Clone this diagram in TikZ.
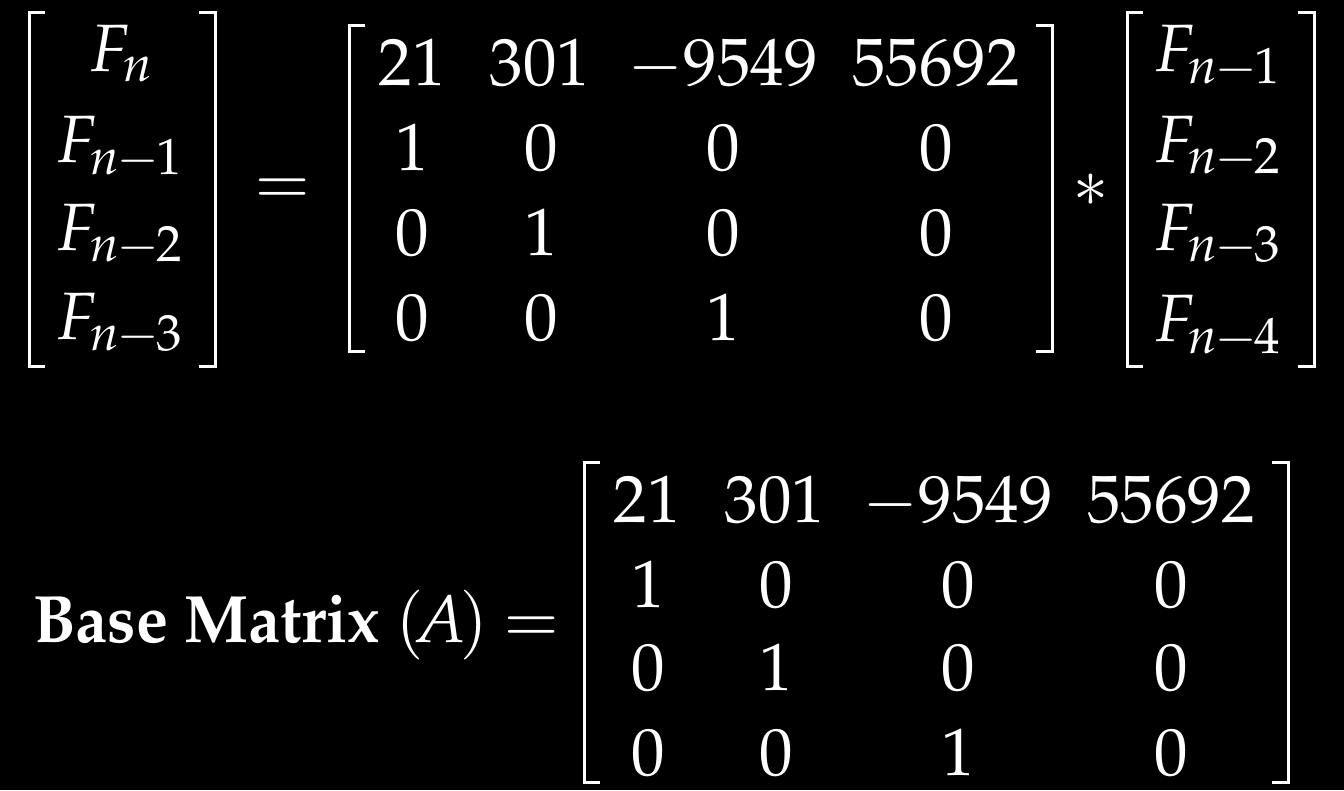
\documentclass[tikz,border=0pt]{standalone}
\usepackage[T1]{fontenc}
\usepackage{mathpazo}
\newcommand{\sbm}{\mkern-1mu-\mkern-1mu}
\begin{document}
\begin{tikzpicture}[x=1pt,y=-1pt,
  every node/.style={text=white, inner sep=0pt, font=\fontsize{67}{80}\selectfont},
  ent/.style={anchor=base},
  brk/.style={draw=white, line width=3pt, line join=miter}]
\fill[black] (0,0) rectangle (1344,790);
\useasboundingbox (0,0) rectangle (1344,790);
% left vector
\node[ent] (l1) at (121,71)  {$F_n$};
\node[ent] (l2) at (119,162) {$F_{n\sbm1}$};
\node[ent] (l3) at (119,250) {$F_{n\sbm2}$};
\node[ent] (l4) at (119,339) {$F_{n\sbm3}$};
\draw[brk] (45,12) -- (29,12) -- (29,366) -- (45,366);
\draw[brk] (199,12) -- (215,12) -- (215,366) -- (199,366);
% equals
\node[ent] (eq1) at (283,204) {$=$};
% big matrix (top)
\node[ent] (a11) at (412,85) {$21$};
\node[ent] (a12) at (540,85) {$301$};
\node[ent] (a13) at (723,85) {$-9549$};
\node[ent] (a14) at (936,85) {$55692$};
\node[ent] (a21) at (412,170) {$1$};
\node[ent] (a22) at (541,170) {$0$};
\node[ent] (a23) at (723,170) {$0$};
\node[ent] (a24) at (936,170) {$0$};
\node[ent] (a31) at (412,255) {$0$};
\node[ent] (a32) at (541,255) {$1$};
\node[ent] (a33) at (723,255) {$0$};
\node[ent] (a34) at (936,255) {$0$};
\node[ent] (a41) at (412,340) {$0$};
\node[ent] (a42) at (541,340) {$0$};
\node[ent] (a43) at (723,340) {$1$};
\node[ent] (a44) at (936,340) {$0$};
\draw[brk] (365,25) -- (349,25) -- (349,351) -- (365,351);
\draw[brk] (1036,25) -- (1052,25) -- (1052,351) -- (1036,351);
% star
\node[ent] (star) at (1091,206) {$*$};
% right vector
\node[ent] (r1) at (1217,71)  {$F_{n\sbm1}$};
\node[ent] (r2) at (1217,162) {$F_{n\sbm2}$};
\node[ent] (r3) at (1217,250) {$F_{n\sbm3}$};
\node[ent] (r4) at (1217,341) {$F_{n\sbm4}$};
\draw[brk] (1143,12) -- (1127,12) -- (1127,366) -- (1143,366);
\draw[brk] (1298,12) -- (1314,12) -- (1314,366) -- (1298,366);
% bottom
\node[anchor=base west] (lbl) at (33,642) {\scalebox{0.955}[1]{\textbf{Base Matrix}}};
\node[ent] (pa) at (442,642) {$(\mkern-3mu A\mkern-2mu)$};
\node[ent] (eq2) at (532,642) {$=$};
\node[ent] (b11) at (647,522) {$21$};
\node[ent] (b12) at (775,522) {$301$};
\node[ent] (b13) at (958,522) {$-9549$};
\node[ent] (b14) at (1171,522) {$55692$};
\node[ent] (b21) at (648,607) {$1$};
\node[ent] (b22) at (776,607) {$0$};
\node[ent] (b23) at (958,607) {$0$};
\node[ent] (b24) at (1171,607) {$0$};
\node[ent] (b31) at (648,690) {$0$};
\node[ent] (b32) at (776,690) {$1$};
\node[ent] (b33) at (958,690) {$0$};
\node[ent] (b34) at (1171,690) {$0$};
\node[ent] (b41) at (648,775) {$0$};
\node[ent] (b42) at (776,775) {$0$};
\node[ent] (b43) at (958,775) {$1$};
\node[ent] (b44) at (1171,775) {$0$};
\draw[brk] (600,462) -- (584,462) -- (584,782) -- (600,782);
\draw[brk] (1272,462) -- (1288,462) -- (1288,782) -- (1272,782);
\end{tikzpicture}
\end{document}
